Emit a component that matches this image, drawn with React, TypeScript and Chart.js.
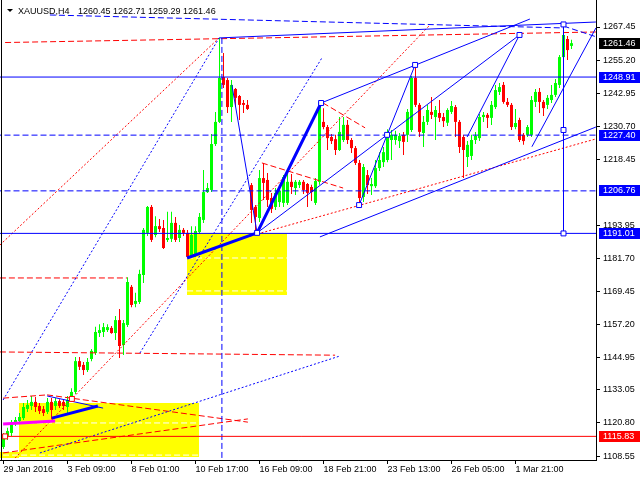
import React, { useEffect, useRef } from 'react';
import { Chart, registerables } from 'chart.js';

Chart.register(...registerables);

// ---- OHLC data (H4 bars, index 0 = 29 Jan 2016 17:00) ----
const barOpen = [
  1111.9, 1116.0, 1117.1, 1120.8, 1121.5, 1122.6, 1126.0, 1127.1, 1128.6, 1127.1,
  1125.9, 1124.9, 1128.6, 1127.1, 1128.9, 1128.6, 1126.7, 1129.3, 1132.3, 1143.7,
  1142.3, 1140.4, 1144.5, 1146.7, 1154.1, 1154.5, 1155.2, 1156.0, 1154.1, 1158.9,
  1149.7, 1157.1, 1171.2, 1164.9, 1165.6, 1175.6, 1191.2, 1200.8, 1190.4, 1193.7,
  1193.0, 1188.6, 1189.0, 1194.9, 1189.3, 1192.3, 1191.2, 1182.3, 1183.0, 1191.5,
  1196.0, 1206.3, 1207.1, 1224.1, 1232.3, 1248.9, 1247.8, 1237.8, 1244.5, 1241.9,
  1239.3, 1238.6, 1208.9, 1200.8, 1196.7, 1211.5, 1210.8, 1204.1, 1200.8, 1202.6,
  1202.3, 1202.3, 1210.1, 1207.8, 1208.9, 1210.1, 1209.3, 1208.2, 1202.3, 1210.1,
  1232.3, 1230.4, 1226.7, 1225.9, 1221.9, 1225.6, 1231.2, 1225.6, 1222.6, 1217.1,
  1204.5, 1212.6, 1208.5, 1208.5, 1215.2, 1217.4, 1218.2, 1225.6, 1225.6, 1225.2,
  1227.5, 1227.5, 1229.3, 1248.6, 1238.6, 1228.2, 1232.3, 1236.0, 1234.1, 1235.6,
  1234.1, 1232.0, 1236.0, 1237.8, 1232.3, 1226.7, 1219.3, 1219.7, 1225.6, 1226.3,
  1234.1, 1234.9, 1233.8, 1237.8, 1243.4, 1246.0, 1239.7, 1238.6, 1230.4, 1233.0,
  1227.5, 1227.5, 1227.5, 1239.7, 1243.4, 1239.7, 1238.6, 1240.4, 1242.3, 1246.0,
  1256.3, 1263.0, 1260.45,
];
const barHigh = [
  1117.1, 1119.0, 1121.9, 1123.0, 1124.5, 1128.2, 1129.3, 1130.8, 1130.4, 1128.2,
  1127.1, 1130.0, 1130.0, 1130.0, 1129.6, 1129.6, 1130.8, 1133.7, 1145.2, 1145.2,
  1143.4, 1144.9, 1148.2, 1156.4, 1157.4, 1157.8, 1157.4, 1156.7, 1160.4, 1163.0,
  1158.9, 1174.8, 1171.9, 1169.0, 1177.5, 1193.0, 1201.2, 1201.5, 1197.4, 1196.3,
  1196.0, 1199.0, 1199.0, 1197.1, 1194.1, 1193.0, 1192.3, 1193.7, 1193.7, 1198.6,
  1214.5, 1209.7, 1227.8, 1236.0, 1263.4, 1257.8, 1248.6, 1247.8, 1244.9, 1242.3,
  1240.4, 1240.4, 1209.7, 1201.5, 1214.5, 1217.1, 1213.4, 1206.0, 1207.8, 1208.5,
  1212.6, 1213.8, 1213.0, 1210.8, 1210.8, 1210.8, 1209.7, 1209.0, 1211.5, 1240.4,
  1237.4, 1231.2, 1227.8, 1227.5, 1234.1, 1234.1, 1233.0, 1226.3, 1223.4, 1218.2,
  1216.7, 1214.5, 1211.5, 1218.2, 1221.1, 1223.0, 1229.6, 1229.3, 1229.0, 1228.2,
  1228.6, 1237.1, 1249.3, 1253.4, 1239.3, 1234.5, 1238.6, 1241.5, 1238.2, 1240.4,
  1235.6, 1237.4, 1240.0, 1238.6, 1233.0, 1227.5, 1225.2, 1227.5, 1228.6, 1235.2,
  1236.0, 1235.6, 1240.0, 1246.0, 1246.7, 1247.1, 1241.2, 1239.3, 1237.1, 1233.8,
  1228.2, 1231.2, 1241.9, 1244.5, 1244.9, 1240.4, 1242.3, 1246.0, 1248.2, 1257.1,
  1265.6, 1264.1, 1262.71,
];
const barLow = [
  1111.2, 1114.5, 1116.0, 1119.7, 1120.8, 1121.9, 1124.9, 1125.6, 1124.9, 1124.1,
  1123.4, 1124.1, 1122.3, 1125.6, 1126.3, 1125.6, 1124.5, 1128.6, 1131.5, 1140.4,
  1138.6, 1139.7, 1143.7, 1146.0, 1152.6, 1152.6, 1154.5, 1153.8, 1151.5, 1144.9,
  1146.0, 1156.3, 1163.7, 1163.7, 1164.9, 1172.6, 1190.0, 1187.8, 1189.6, 1191.5,
  1185.2, 1187.8, 1187.8, 1187.8, 1187.8, 1190.0, 1181.5, 1181.9, 1182.3, 1190.8,
  1194.9, 1206.0, 1206.3, 1223.4, 1231.9, 1244.9, 1235.6, 1232.3, 1237.8, 1233.0,
  1235.6, 1236.7, 1194.9, 1191.2, 1195.2, 1203.4, 1200.8, 1198.6, 1199.7, 1200.8,
  1200.8, 1201.5, 1205.6, 1205.2, 1207.8, 1205.6, 1200.8, 1203.0, 1201.5, 1209.0,
  1229.6, 1221.9, 1224.1, 1220.0, 1221.5, 1224.9, 1224.1, 1220.8, 1216.3, 1200.8,
  1202.6, 1205.6, 1205.2, 1207.8, 1214.1, 1215.6, 1217.4, 1218.2, 1223.8, 1222.6,
  1220.0, 1224.9, 1228.6, 1237.8, 1226.7, 1223.0, 1231.2, 1233.4, 1225.6, 1232.3,
  1230.4, 1230.8, 1235.2, 1226.7, 1220.8, 1211.5, 1215.6, 1218.2, 1224.1, 1225.2,
  1232.3, 1230.0, 1231.2, 1237.1, 1242.3, 1239.0, 1237.8, 1229.3, 1229.6, 1224.9,
  1223.8, 1226.7, 1226.7, 1237.8, 1235.6, 1234.5, 1237.1, 1239.3, 1241.5, 1244.9,
  1255.6, 1255.2, 1259.29,
];
const barClose = [
  1115.2, 1117.8, 1120.4, 1121.9, 1123.0, 1126.7, 1127.5, 1128.6, 1126.7, 1125.2,
  1124.5, 1128.6, 1125.6, 1128.9, 1127.1, 1127.1, 1129.3, 1132.3, 1143.7, 1141.6,
  1140.4, 1143.4, 1147.5, 1154.5, 1155.2, 1156.3, 1156.3, 1154.1, 1158.9, 1149.3,
  1157.8, 1173.0, 1164.5, 1166.0, 1176.0, 1192.3, 1200.8, 1188.6, 1193.7, 1192.6,
  1185.6, 1189.3, 1194.9, 1188.6, 1192.3, 1191.2, 1182.3, 1190.4, 1191.9, 1197.1,
  1206.3, 1207.8, 1224.1, 1232.3, 1248.6, 1246.0, 1237.8, 1246.0, 1241.2, 1238.6,
  1238.6, 1237.1, 1199.7, 1197.1, 1211.5, 1209.7, 1203.4, 1200.1, 1206.0, 1206.7,
  1211.9, 1210.1, 1208.2, 1210.1, 1210.1, 1207.1, 1206.0, 1206.3, 1210.4, 1239.6,
  1230.4, 1226.3, 1225.2, 1221.9, 1228.6, 1231.2, 1225.6, 1222.6, 1217.1, 1204.1,
  1215.6, 1208.9, 1209.3, 1215.2, 1218.2, 1221.1, 1228.2, 1227.5, 1227.5, 1227.1,
  1224.9, 1236.0, 1248.6, 1238.6, 1228.6, 1232.3, 1236.7, 1234.9, 1236.7, 1233.8,
  1232.6, 1236.7, 1238.2, 1232.3, 1223.0, 1221.9, 1223.8, 1225.6, 1227.1, 1234.1,
  1234.9, 1233.8, 1238.6, 1244.1, 1245.2, 1239.7, 1238.6, 1230.4, 1231.9, 1225.6,
  1225.2, 1230.4, 1240.4, 1243.4, 1239.7, 1237.4, 1241.2, 1242.3, 1246.7, 1256.3,
  1264.5, 1258.9, 1261.46,
];

// ---- axis ticks ----
const dateTickBars = [0, 16, 32, 48, 64, 80, 96, 112, 128];
const dateTickLabels = [
  '29 Jan 2016', '3 Feb 09:00', '8 Feb 01:00', '10 Feb 17:00', '16 Feb 09:00',
  '18 Feb 21:00', '23 Feb 13:00', '26 Feb 05:00', '1 Mar 21:00',
];
const priceTicks = [
  1267.45, 1255.2, 1242.95, 1230.7, 1218.45, 1193.95, 1181.7, 1169.45,
  1157.2, 1144.95, 1133.05, 1120.8, 1108.55,
];

// ---- header ----
const symbolName = 'XAUUSD,H4';
const lastOHLC = [1260.45, 1262.71, 1259.29, 1261.46];

// ---- horizontal levels ----
const blueSolidLevels = [1248.91, 1191.01];
const blueDashedLevels = [1227.4, 1206.76];
const redSolidLevels = [1115.83];
const bidPrice = 1261.46;

// ---- drawn objects: [bar1, price1, bar2, price2] ----
const blueThinSegs = [
  [53.9, 1263.4, 148.1, 1269.3],
  [140, 1268.4, 140, 1191.0],
  [63.4, 1191.2, 129.0, 1264.5],
  [57.1, 1246.0, 63.4, 1191.2],
  [79.4, 1239.3, 131.6, 1270.4],
  [88.9, 1201.5, 102.9, 1253.4],
  [79.1, 1189.7, 148.1, 1230.4],
  [115.9, 1226.7, 129.0, 1264.5],
  [132.1, 1223.1, 148.1, 1267.1],
  [10.9, 1130.8, 24.9, 1126.3],
];
const blueThickSegs = [
  [45.9, 1181.9, 63.4, 1191.2],
  [63.4, 1191.2, 79.4, 1239.3],
  [12.1, 1122.6, 23.6, 1127.1],
];
const blueDashedSegs = [
  [11.6, 1271.9, 140.0, 1267.1],
  [140.0, 1267.8, 148.4, 1263.7],
  [54.6, 1263.4, 54.6, 1100.0],
];
const blueDottedSegs = [
  [-0.1, 1129.3, 53.9, 1263.4],
  [34.1, 1146.7, 79.6, 1256.0],
  [9.1, 1109.7, 84.1, 1145.6],
];
const redDashedSegs = [
  [0.4, 1261.7, 148.1, 1265.6],
  [-0.9, 1147.1, 82.9, 1145.9],
  [-0.9, 1174.5, 30.9, 1174.5],
  [-0.1, 1130.0, 10.9, 1131.2],
  [10.9, 1131.2, 61.1, 1121.1],
  [-0.1, 1109.7, 61.1, 1122.3],
  [64.6, 1217.1, 84.9, 1207.8],
  [79.9, 1239.3, 90.4, 1230.1],
];
const redDottedSegs = [
  [2.9, 1107.8, 106.6, 1268.2],
  [-0.9, 1186.7, 53.9, 1263.4],
  [61.6, 1190.0, 148.1, 1226.0],
];
const magentaSegs = [[-0.1, 1120.4, 12.9, 1121.5]];
const whiteDashedSegs = [
  [3.9, 1120.8, 48.9, 1120.8],
  [-0.1, 1108.9, 48.9, 1108.9],
  [45.9, 1181.9, 70.9, 1181.9],
  [45.9, 1169.7, 70.9, 1169.7],
];
// rectangles [bar1, price1, bar2, price2]
const yellowZones = [
  [3.9, 1128.2, 48.9, 1108.3],
  [-0.9, 1110.0, 3.9, 1108.0],
  [45.9, 1191.2, 70.9, 1168.2],
];
// anchor markers [bar, price]
const blueMarkers = [
  [63.4, 1191.2], [79.4, 1239.3], [88.9, 1201.5], [95.9, 1227.5], [102.9, 1253.4],
  [129.0, 1264.5], [140, 1268.4], [140, 1229.3], [140, 1191.0],
];
const redMarkers = [[0.4, 1115.83], [17.1, 1129.7]];

const FONT = "'Liberation Sans', Arial, sans-serif";
const BLUE = '#0000FF';
const RED = '#FF0000';
const UP = '#00FF00';

function segPoints(segs: number[][]) {
  const pts: any[] = [];
  segs.forEach((s) => {
    pts.push({ x: s[0], y: s[1] }, { x: s[2], y: s[3] }, { x: s[2], y: null });
  });
  return pts;
}
function levelSegs(levels: number[], from: number) {
  return levels.map((p) => [from, p, 150, p]);
}
function lineDs(segs: number[][], color: string, width: number, dash: number[]) {
  return {
    type: 'line' as const,
    data: segPoints(segs),
    borderColor: color,
    borderWidth: width,
    borderDash: dash,
    pointRadius: 0,
    fill: false,
    tension: 0,
    spanGaps: false,
    order: 1,
  };
}

const overlayPlugin = {
  id: 'overlay',
  beforeDatasetsDraw(chart: any) {
    const { ctx, chartArea, scales } = chart;
    const xs = scales.x;
    const ys = scales.y;
    ctx.save();
    ctx.beginPath();
    ctx.rect(chartArea.left, chartArea.top, chartArea.right - chartArea.left, chartArea.bottom - chartArea.top);
    ctx.clip();
    ctx.fillStyle = '#FFFF00';
    yellowZones.forEach((z) => {
      const x1 = Math.round(xs.getPixelForValue(z[0]));
      const x2 = Math.round(xs.getPixelForValue(z[2]));
      const y1 = Math.round(ys.getPixelForValue(z[1]));
      const y2 = Math.round(ys.getPixelForValue(z[3]));
      ctx.fillRect(x1, y1, x2 - x1, y2 - y1);
    });
    ctx.restore();
  },
  afterDraw(chart: any) {
    const { ctx, chartArea, scales } = chart;
    const ys = scales.y;
    ctx.save();
    // left frame line
    ctx.strokeStyle = '#000';
    ctx.lineWidth = 1;
    ctx.beginPath();
    ctx.moveTo(1.5, 0);
    ctx.lineTo(1.5, chartArea.bottom);
    ctx.stroke();

    // price tags on the axis
    ctx.font = `9px ${FONT}`;
    ctx.textBaseline = 'middle';
    ctx.textAlign = 'left';
    const tag = (price: number, color: string) => {
      const y = ys.getPixelForValue(price);
      const top = Math.round(y - 5.5);
      ctx.fillStyle = color;
      ctx.fillRect(599, top, 41, 11);
      ctx.fillStyle = '#FFFFFF';
      ctx.fillText(price.toFixed(2), 603, top + 6);
    };
    tag(bidPrice, '#000000');
    blueSolidLevels.forEach((p) => tag(p, BLUE));
    blueDashedLevels.forEach((p) => tag(p, BLUE));
    redSolidLevels.forEach((p) => tag(p, RED));

    // header
    ctx.fillStyle = '#000';
    ctx.beginPath();
    ctx.moveTo(7, 9);
    ctx.lineTo(13, 9);
    ctx.lineTo(10, 12);
    ctx.closePath();
    ctx.fill();
    ctx.textBaseline = 'alphabetic';
    ctx.fillText(symbolName, 18, 14);
    ctx.fillText(lastOHLC.map((v) => v.toFixed(2)).join(' '), 78, 14);
    ctx.restore();
  },
};

export default function App() {
  const ref = useRef<HTMLCanvasElement | null>(null);

  useEffect(() => {
    document.body.style.margin = '0';
    const canvas = ref.current;
    if (!canvas) return;
    const colors = barClose.map((c, i) => (c >= barOpen[i] ? UP : RED));

    const datasets: any[] = [
      {
        type: 'line',
        data: blueMarkers.map((m) => ({ x: m[0], y: m[1] })),
        showLine: false,
        pointStyle: 'rect',
        pointRadius: 3.5,
        pointBorderWidth: 1,
        pointBackgroundColor: '#FFFFFF',
        pointBorderColor: BLUE,
        order: 0,
      },
      {
        type: 'line',
        data: redMarkers.map((m) => ({ x: m[0], y: m[1] })),
        showLine: false,
        pointStyle: 'rect',
        pointRadius: 3.5,
        pointBorderWidth: 1,
        pointBackgroundColor: '#FFFFFF',
        pointBorderColor: RED,
        order: 0,
      },
      lineDs(blueThickSegs, BLUE, 3, []),
      lineDs(magentaSegs, '#FF00FF', 3, []),
      lineDs(blueThinSegs, BLUE, 1, []),
      lineDs(levelSegs(blueSolidLevels, -2), BLUE, 1, []),
      lineDs(levelSegs(redSolidLevels, 0.4), RED, 1, []),
      lineDs(levelSegs(blueDashedLevels, -2), BLUE, 1, [6, 3]),
      lineDs(blueDashedSegs, BLUE, 1, [6, 3]),
      lineDs(blueDottedSegs, BLUE, 1, [2, 2]),
      lineDs(redDashedSegs, RED, 1, [6, 3]),
      lineDs(redDottedSegs, RED, 1, [2, 2]),
      lineDs(whiteDashedSegs, '#FFFFFF', 1, [6, 3]),
      {
        type: 'bar',
        data: barOpen.map((o, i) => ({ x: i, y: [o, barClose[i]] })),
        backgroundColor: colors,
        borderWidth: 0,
        barThickness: 3,
        grouped: false,
        inflateAmount: 0,
        minBarLength: 1,
        order: 2,
      },
      {
        type: 'bar',
        data: barLow.map((l, i) => ({ x: i, y: [l, barHigh[i]] })),
        backgroundColor: colors,
        borderWidth: 0,
        barThickness: 1,
        grouped: false,
        inflateAmount: 0,
        minBarLength: 1,
        order: 3,
      },
    ];

    const chart = new Chart(canvas, {
      type: 'bar',
      data: { datasets },
      plugins: [overlayPlugin],
      options: {
        responsive: false,
        animation: false,
        devicePixelRatio: 1,
        events: [],
        layout: { padding: 0, autoPadding: false },
        plugins: { legend: { display: false }, tooltip: { enabled: false } },
        scales: {
          x: {
            type: 'linear',
            position: 'bottom',
            min: -0.875,
            max: 148.125,
            offset: false,
            bounds: 'data',
            grid: { display: true, drawOnChartArea: false, drawTicks: true, tickLength: 4, color: '#000', offset: false },
            border: { display: true, color: '#000', width: 1 },
            ticks: {
              autoSkip: false,
              maxRotation: 0,
              minRotation: 0,
              align: 'start',
              padding: 0,
              color: '#000',
              font: { family: FONT, size: 9 },
              callback: (_v: any, i: number) => dateTickLabels[i] ?? '',
            },
            afterBuildTicks: (s: any) => {
              s.ticks = dateTickBars.map((v) => ({ value: v }));
            },
            afterFit: (s: any) => {
              s.height = 20;
              s.paddingLeft = 0;
              s.paddingRight = 0;
              s.paddingTop = 0;
              s.paddingBottom = 0;
            },
          },
          y: {
            type: 'linear',
            position: 'right',
            min: 1107.08,
            max: 1277.45,
            beginAtZero: false,
            bounds: 'data',
            grid: { display: true, drawOnChartArea: false, drawTicks: true, tickLength: 4, color: '#000' },
            border: { display: true, color: '#000', width: 1 },
            ticks: {
              autoSkip: false,
              padding: 3,
              color: '#000',
              font: { family: FONT, size: 9 },
              callback: (v: any) => Number(v).toFixed(2),
            },
            afterBuildTicks: (s: any) => {
              s.ticks = priceTicks.map((v) => ({ value: v }));
            },
            afterFit: (s: any) => {
              s.width = 44;
              s.paddingLeft = 0;
              s.paddingRight = 0;
              s.paddingTop = 0;
              s.paddingBottom = 0;
            },
          },
        },
      } as any,
    });
    return () => chart.destroy();
  }, []);

  return (
    <div style={{ width: 640, height: 480, background: '#fff' }}>
      <canvas ref={ref} width={640} height={480} style={{ display: 'block' }} />
    </div>
  );
}
